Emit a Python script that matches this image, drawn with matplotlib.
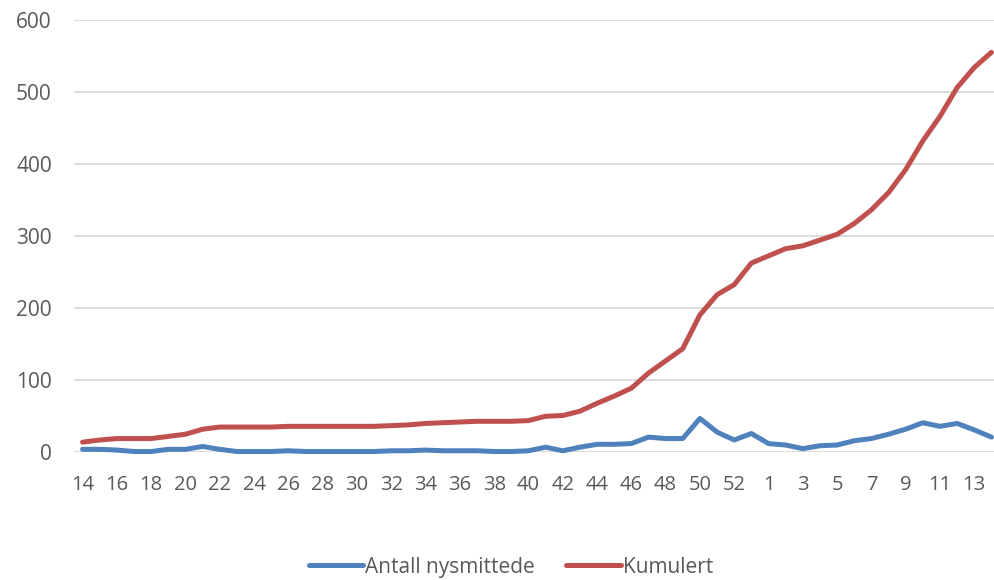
import matplotlib
matplotlib.use("Agg")
import matplotlib.pyplot as plt

# uker: 14-53 i 2020, 1-14 i 2021
uker = list(range(14, 54)) + list(range(1, 15))

nysmittede = [3, 3, 2, 0, 0, 3, 3, 7, 3, 0,
              0, 0, 1, 0, 0, 0, 0, 0, 1, 1,
              2, 1, 1, 1, 0, 0, 1, 6, 1, 6,
              10, 10, 11, 20, 18, 18, 46, 27, 16, 25,
              11, 9, 4, 8, 9, 15, 18, 24, 31, 40,
              35, 39, 30, 20]

kumulert = [13, 16, 18, 18, 18, 21, 24, 31, 34,
            34, 34, 34, 35, 35, 35, 35, 35, 35,
            36, 37, 39, 40, 41, 42, 42, 42, 43,
            49, 50, 56, 67, 77, 88, 109, 126, 143,
            190, 218, 232, 262,
            272, 282, 286, 294, 302, 317, 336, 360, 392, 432, 466, 506, 534, 555]

plt.rcParams['font.family'] = ['Open Sans', 'DejaVu Sans']

fig = plt.figure(figsize=(9.94, 5.8), dpi=100)
ax = fig.add_axes([74 / 994, 128.5 / 580, 920 / 994, 431.5 / 580])

x = list(range(len(uker)))
ax.plot(x, nysmittede, color='#4F81BD', lw=3.6, solid_capstyle='round',
        label='Antall nysmittede', clip_on=False, zorder=3)
ax.plot(x, kumulert, color='#C0504D', lw=3.6, solid_capstyle='round',
        label='Kumulert', clip_on=False, zorder=3)

ax.set_ylim(0, 600)
ax.set_yticks(range(0, 601, 100))
ax.set_xlim(-0.5, 53.15)
ax.set_xticks(x[::2])
ax.set_xticklabels([str(u) for u in uker[::2]])

ax.grid(axis='y', color='#D9D9D9', lw=1.3)
ax.set_axisbelow(True)
for s in ax.spines.values():
    s.set_visible(False)
ax.tick_params(axis='both', length=0, colors='#595959')
ax.tick_params(axis='y', labelsize=15, pad=16)
ax.tick_params(axis='x', labelsize=14.5, pad=17)

fig.legend(loc='center', bbox_to_anchor=(511 / 994, 0.022), ncol=2,
           frameon=False, fontsize=15, handlelength=2.6, handletextpad=0.1,
           columnspacing=1.5, labelcolor='#595959')

fig.savefig('out.png', dpi=100)
